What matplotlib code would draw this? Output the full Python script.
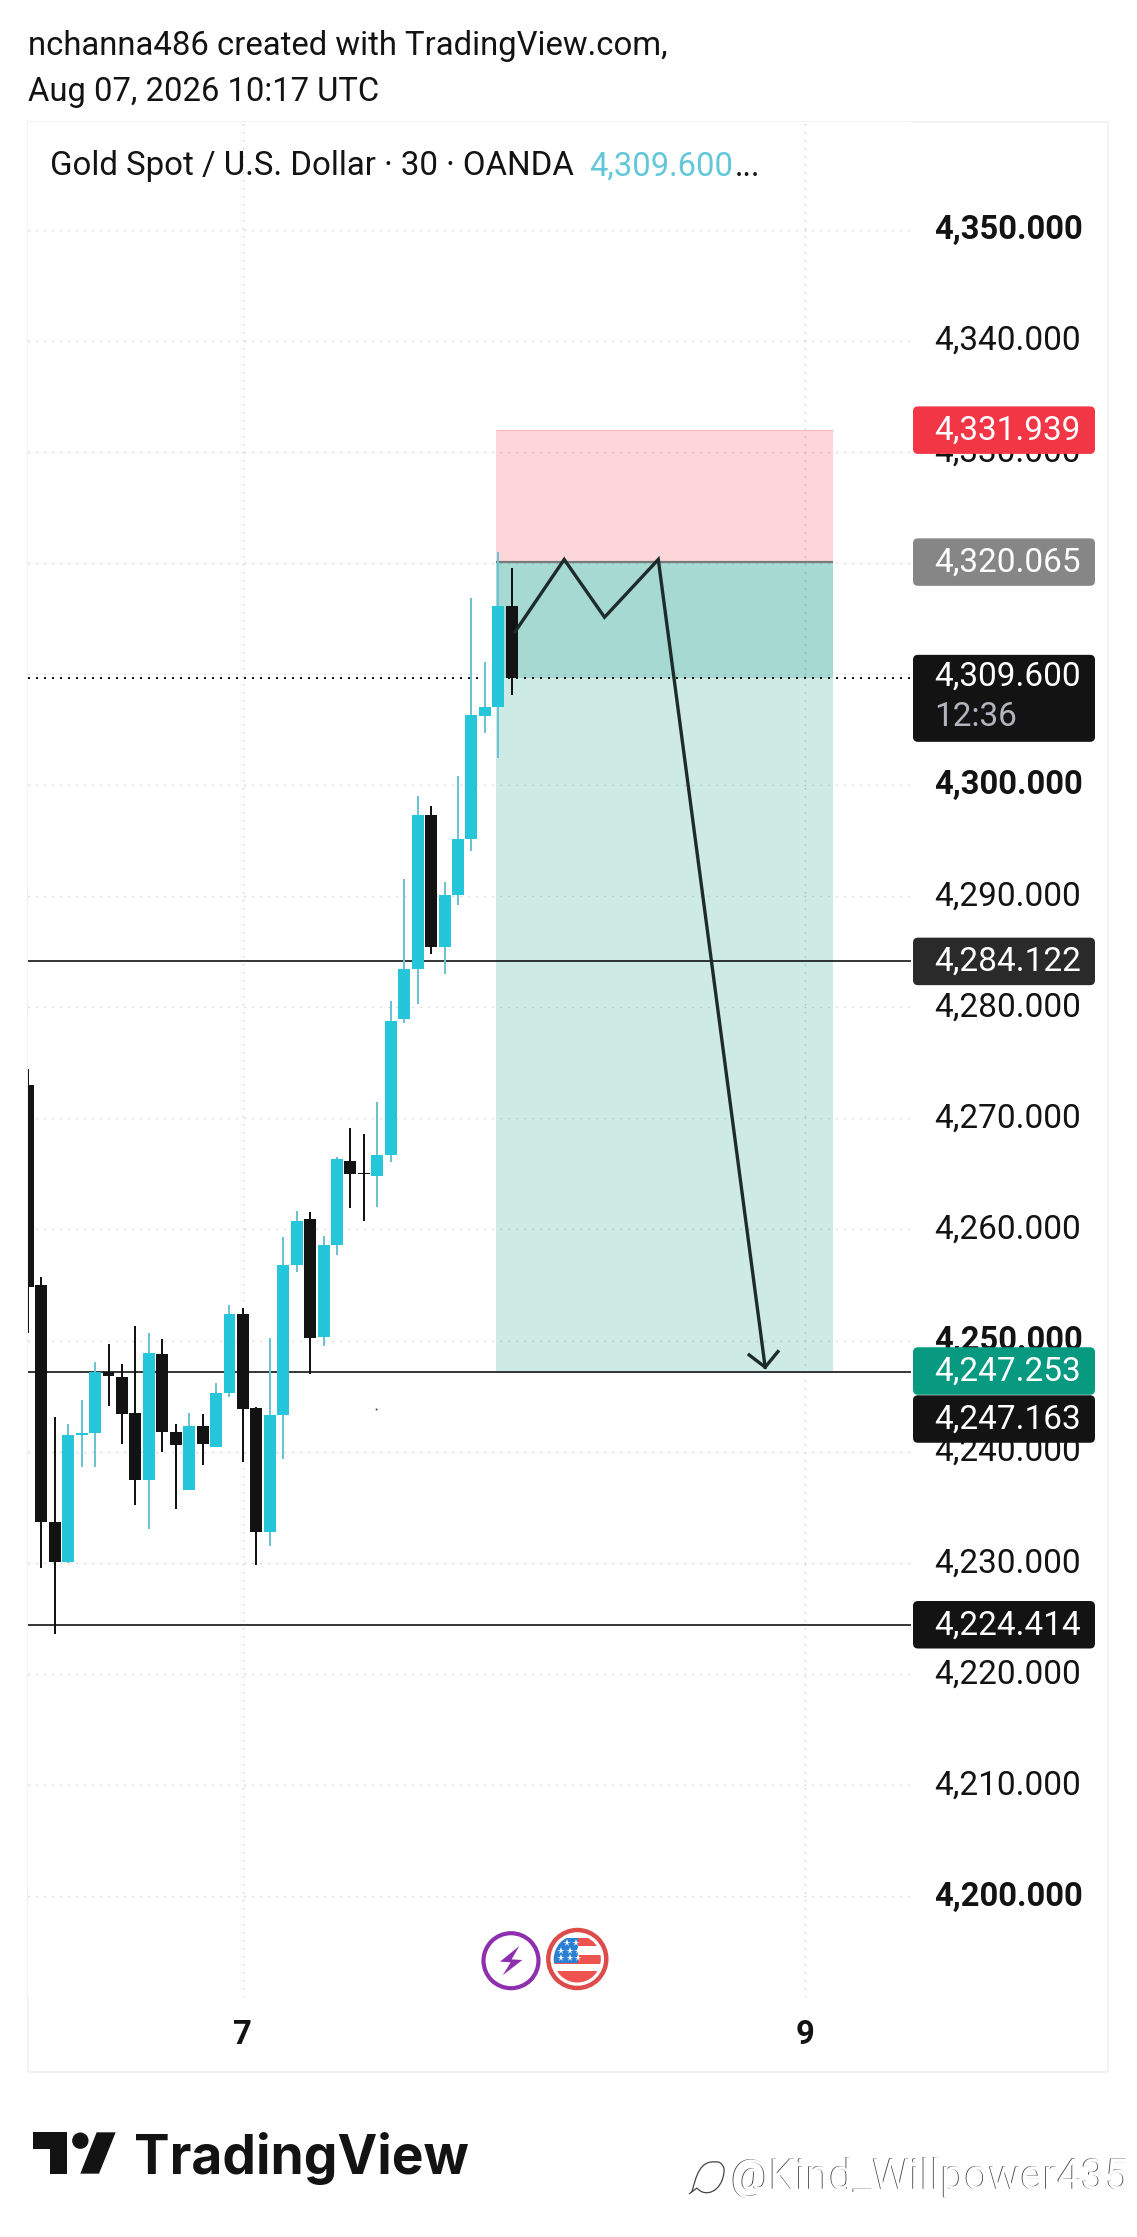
import matplotlib
matplotlib.use("Agg")
import matplotlib.pyplot as plt
import matplotlib.patheffects as pe
from matplotlib.patches import Rectangle, FancyBboxPatch, Circle, Polygon, PathPatch
from matplotlib.path import Path
from matplotlib.lines import Line2D
from matplotlib.transforms import Affine2D, ScaledTranslation

W, H = 1137, 2237
plt.rcParams['font.family'] = ['Roboto', 'DejaVu Sans']

# ---------- data ----------
opens = [4273.0, 4255.0, 4233.7, 4230.1, 4241.5, 4241.7, 4247.2, 4246.7, 4243.5, 4237.4,
         4248.8, 4241.8, 4236.5, 4242.3, 4240.4, 4245.3, 4252.4, 4243.9, 4232.8, 4243.3,
         4256.8, 4260.9, 4250.3, 4258.6, 4266.2, 4265.1, 4264.8, 4266.7, 4278.9, 4283.4,
         4297.3, 4285.4, 4290.1, 4295.1, 4306.2, 4307.0, 4316.1]
closes = [4254.8, 4233.7, 4230.1, 4241.5, 4241.7, 4247.2, 4246.8, 4243.4, 4237.4, 4248.9,
          4241.8, 4240.6, 4242.3, 4240.7, 4245.3, 4252.4, 4243.8, 4232.8, 4243.3, 4256.8,
          4260.8, 4250.2, 4258.6, 4266.3, 4265.0, 4264.95, 4266.7, 4278.8, 4283.4, 4297.3,
          4285.4, 4290.1, 4295.1, 4306.3, 4307.0, 4316.1, 4309.6]
highs = [4274.4, 4255.7, 4243.1, 4242.5, 4244.6, 4248.1, 4249.7, 4247.9, 4251.3, 4250.7,
         4250.1, 4242.5, 4243.5, 4243.4, 4246.2, 4253.2, 4252.9, 4244.0, 4250.2, 4259.3,
         4261.7, 4261.6, 4259.4, 4266.5, 4269.1, 4268.6, 4271.5, 4280.6, 4291.5, 4299.0,
         4298.1, 4291.3, 4300.8, 4316.8, 4311.1, 4321.0, 4319.5]
lows = [4250.7, 4229.5, 4223.6, 4230.0, 4238.6, 4238.6, 4244.1, 4240.7, 4235.2, 4233.0,
        4240.0, 4234.8, 4236.5, 4238.8, 4240.4, 4244.9, 4239.1, 4229.8, 4231.5, 4239.3,
        4256.2, 4247.0, 4249.5, 4257.7, 4261.9, 4260.8, 4262.0, 4266.1, 4278.6, 4280.3,
        4284.8, 4283.0, 4289.2, 4294.1, 4304.7, 4302.4, 4308.1]

price_ticks = list(range(4200, 4351, 10))
bold_prices = [4200, 4250, 4300, 4350]
price_labels = [f"{p:,.3f}" for p in price_ticks]
time_ticks = [16, 57.8]
time_labels = ["7", "9"]

current_price = 4309.6
stop_price = 4331.939
entry_price = 4320.065
target_price = 4247.253
tool_x = [34.84, 59.9]
level_prices = [4284.122, 4247.163, 4224.414]

path_x = [36.25, 39.9, 42.9, 46.9, 54.85]
path_y = [4313.8, 4320.3, 4315.1, 4320.3, 4247.6]
head_x = [53.66, 54.85, 55.8]
head_y = [4248.7, 4247.6, 4249.0]

# (text, price, pixel offset of the box, box colour)
price_boxes = [
    ("4,331.939", 4331.939, 0, '#F23645'),
    ("4,320.065", 4320.065, 0, '#868686'),
    ("4,284.122", 4284.122, 0, '#2A2A2A'),
    ("4,247.253", 4247.253, 0, '#089981'),
    ("4,247.163", 4247.163, 47, '#131313'),
    ("4,224.414", 4224.414, 0, '#131313'),
]

UP, DOWN, UP_WICK = '#26C6DA', '#131313', '#6CC4D3'
FS = 23.6
FS_PRICE = 24.0

# ---------- figure ----------
fig = plt.figure(figsize=(W / 100, H / 100), dpi=100, facecolor='white')
L, R, T_, B = 28, 911, 122, 1997
ax = fig.add_axes([L / W, 1 - B / H, (R - L) / W, (B - T_) / H])
ax.set_xlim(0.01, 65.7)
ax.set_ylim(4200 - 101 / 11.11, 4200 + 1774 / 11.11)
ax.set_axisbelow(True)
for s in ax.spines.values():
    s.set_visible(False)

T = Affine2D().scale(1, -1).translate(0, H)   # top-left pixel coordinates


def add(a):
    a.set_transform(T)
    fig.add_artist(a)
    return a


# pane frame
frame = Rectangle((28, 122), 1080, 1950, fc='none', ec='#F0F0F3', lw=1.2)
frame.set_zorder(-1)
add(frame)

# grid and ticks
grid_style = dict(color='#CCCCCC', lw=1.0, ls=(0, (1, 4.76)))
ax.yaxis.tick_right()
ax.set_yticks(price_ticks)
ax.set_yticklabels(price_labels, fontsize=FS_PRICE, color='#131313')
ax.set_xticks(time_ticks)
ax.set_xticklabels(time_labels, fontsize=FS, color='#131313', fontweight='bold')
ax.tick_params(axis='y', length=0, pad=16.8)
ax.tick_params(axis='x', length=0, pad=15.5)
ax.grid(True, **grid_style)
up_shift = ScaledTranslation(0, 3 / 100, fig.dpi_scale_trans)
for tick, p in zip(ax.yaxis.get_major_ticks(), price_ticks):
    tick.label2.set_transform(tick.label2.get_transform() + up_shift)
    if p in bold_prices:
        tick.label2.set_fontweight('bold')
        tick.label2.set_fontsize(FS)

# position tool
ax.add_patch(Rectangle((tool_x[0], entry_price), tool_x[1] - tool_x[0], stop_price - entry_price,
                       fc='#F23645', alpha=0.2, ec='none', zorder=1))
ax.add_patch(Rectangle((tool_x[0], target_price), tool_x[1] - tool_x[0], entry_price - target_price,
                       fc='#089981', alpha=0.2, ec='none', zorder=1))
ax.add_patch(Rectangle((tool_x[0], current_price), tool_x[1] - tool_x[0], entry_price - current_price,
                       fc='#089981', alpha=0.2, ec='none', zorder=1))
ax.plot(tool_x, [entry_price, entry_price], color='#787B7E', lw=1.6, zorder=1.5, solid_capstyle='butt')
ax.plot(tool_x, [stop_price, stop_price], color='#F4B9BE', lw=0.8, zorder=1.5, solid_capstyle='butt')

# horizontal levels
for p in level_prices:
    ax.axhline(p, color='#131313', lw=1.2, zorder=1.6)
ax.axhline(current_price, color='#131313', lw=1.44, ls=(0, (1, 3)), zorder=1.7)

# candles
for i, (o, c, h, l) in enumerate(zip(opens, closes, highs, lows)):
    up = c >= o
    ax.vlines(i, l, h, color=UP_WICK if up else DOWN, lw=1.44, zorder=2)
    ax.bar(i, abs(c - o), bottom=min(o, c), width=0.89, color=UP if up else DOWN, lw=0, zorder=2.2)

# drawn path
ax.plot(path_x, path_y, color='#1E2B2B', lw=2.4, zorder=3, solid_joinstyle='miter')
ax.plot(head_x, head_y, color='#1E2B2B', lw=2.4, zorder=3, solid_joinstyle='miter')

# price boxes
fig.canvas.draw()


def price_px(p):
    return H - ax.transData.transform((0, p))[1]


def box(yc, h, color):
    add(FancyBboxPatch((913, yc - h / 2), 182, h, boxstyle='round,pad=0,rounding_size=5',
                       fc=color, ec='none', zorder=4))


def px_text(x, y, s, **kw):
    kw.setdefault('va', 'center_baseline')
    kw.setdefault('ha', 'left')
    kw.setdefault('zorder', 5)
    return fig.text(x / W, 1 - y / H, s, **kw)


TX = 934.5
for txt, p, off, col in price_boxes:
    yc = price_px(p) + off
    box(yc, 47.5, col)
    px_text(TX, yc - 3, txt, color='white', fontsize=FS_PRICE)

yc = price_px(current_price)
box(yc + 20, 87, '#131313')
px_text(TX, yc - 5, "4,309.600", color='white', fontsize=FS_PRICE)
px_text(TX, yc + 35, "12:36", color='#B2B5BE', fontsize=FS_PRICE)

# header and legend
px_text(28, 42, "nchanna486 created with TradingView.com,", color='#131313', fontsize=23.7)
px_text(28, 89, "Aug 07, 2026 10:17 UTC", color='#131313', fontsize=FS)
px_text(50, 163, "Gold Spot / U.S. Dollar \u00b7 30 \u00b7 OANDA", color='#131313', fontsize=23.8)
px_text(589, 163, "4,309.600", color='#62C7D8', fontsize=FS)
px_text(735, 163, "...", color='#131313', fontsize=FS)

# event icons
add(Circle((511, 1960.7), 27.5, fc='white', ec='#8E2FB0', lw=3.0, zorder=4))
bolt = [(178, 138), (120, 185), (152, 187), (128, 226), (187, 180), (155, 178)]
add(Polygon([(460 + x / 3, 1900 + y / 3) for x, y in bolt], closed=True, fc='#8E2FB0', ec='none', zorder=5))

cx, cy = 577.3, 1959.0
add(Circle((cx, cy), 29, fc='white', ec='#DD4B4B', lw=3.2, zorder=4))
clip = add(Circle((cx, cy), 23.5, fc='white', ec='none', zorder=4.1))
flag_rects = [((cx - 24, 1938), 50, 8, '#EF5350'), ((cx - 24, 1955), 50, 8.5, '#EF5350'),
              ((cx - 24, 1971), 50, 12, '#EF5350'), ((cx - 24, 1938), 25, 25, '#2B7FD4')]
for xy, w_, h_, col in flag_rects:
    r = add(Rectangle(xy, w_, h_, fc=col, ec='none', zorder=4.2))
    r.set_clip_path(clip)
star_rows = [(1943, [567, 576]), (1951, [561, 570, 578]), (1958, [561, 570, 578])]
for y, xs in star_rows:
    s = Line2D(xs, [y] * len(xs), ls='none', marker='*', ms=5.5, mfc='white', mec='white', mew=0, zorder=4.3)
    add(s)

# tiny stray dot
add(Circle((376.6, 1409.5), 1.0, fc='#444444', ec='none', zorder=4))

# TradingView logo
logo_ox, logo_oy = 0, 2080
logo_t = [(100, 157), (200, 157), (200, 281), (150, 281), (150, 207), (100, 207)]
logo_s = [(290, 157), (347, 157), (297, 281), (241, 281)]
for pts in (logo_t, logo_s):
    add(Polygon([(logo_ox + x / 3, logo_oy + y / 3) for x, y in pts], closed=True, fc='#131313', ec='none', zorder=4))
add(Circle((logo_ox + 241 / 3, logo_oy + 182 / 3), 8.2, fc='#131313', ec='none', zorder=4))
fig.text(134 / W, 1 - 2173.7 / H, "TradingView", fontsize=38.4, fontweight='bold', color='#131313',
         family=['Inter', 'Roboto', 'DejaVu Sans'], va='baseline', ha='left')

# watermark
wm = fig.text(731 / W, 1 - 2173 / H, "@Kind_Willpower435", fontsize=30.5, color='white', va='center_baseline', ha='left',
              family=['Roboto', 'DejaVu Sans'], zorder=6)
wm.set_path_effects([
    pe.PathPatchEffect(offset=(-0.6, 0.2), facecolor='#444444', edgecolor='none'),
    pe.PathPatchEffect(facecolor='white', edgecolor='none'),
])
icon = Path([(716, 2162), (700, 2160), (696, 2176), (692, 2192),
             (689, 2194), (697, 2188), (705, 2198), (722, 2192), (724, 2172), (725, 2166), (720, 2161), (716, 2162)],
            [Path.MOVETO, Path.CURVE4, Path.CURVE4, Path.CURVE4,
             Path.MOVETO, Path.LINETO, Path.CURVE4, Path.CURVE4, Path.CURVE4, Path.CURVE4, Path.CURVE4, Path.CURVE4])
add(PathPatch(icon, fc='none', ec='#444444', lw=0.9, zorder=6))

fig.savefig('out.png', dpi=100, facecolor='white')
